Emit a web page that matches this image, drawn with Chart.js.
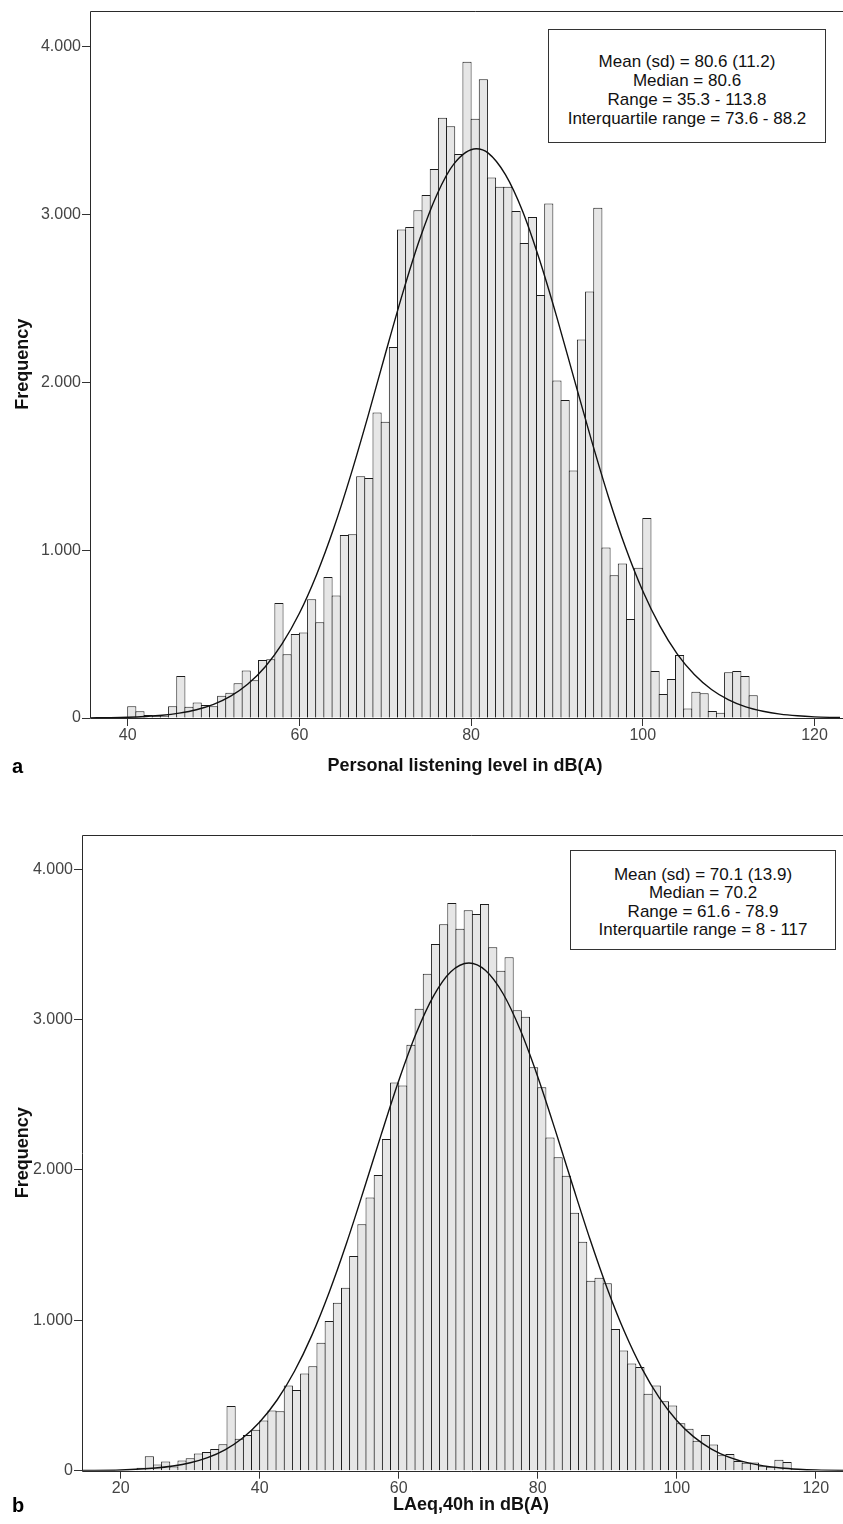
<!DOCTYPE html>
<html>
<head>
<meta charset="utf-8">
<script src="https://cdn.jsdelivr.net/npm/chart.js@4.4.1/dist/chart.umd.min.js"></script>
<style>
  html, body { margin: 0; padding: 0; background: #fff; overflow: hidden; }
  body { width: 843px; height: 1524px; position: relative; font-family: "Liberation Sans", Arial, sans-serif; }
  .wrap { position: absolute; left: 0; width: 860px; }
  #wrapA { top: 0; height: 790px; }
  #wrapB { top: 800px; height: 724px; }
  .stats { position: absolute; border: 1px solid #333; background: #fff; text-align: center;
           font-size: 17px; color: #111; box-sizing: border-box; }
  #statsA { left: 548px; top: 29px; width: 278px; height: 114px; padding-top: 22px; line-height: 19px; }
  #statsB { left: 570px; top: 850px; width: 266px; height: 100px; padding-top: 15px; line-height: 18.4px; }
  .panel { position: absolute; left: 12px; font-weight: bold; font-size: 20px; }
</style>
</head>
<body>
<div class="wrap" id="wrapA"><canvas id="chartA" width="860" height="790"></canvas></div>
<div class="wrap" id="wrapB"><canvas id="chartB" width="860" height="724"></canvas></div>

<div class="stats" id="statsA">Mean (sd) = 80.6 (11.2)<br>Median = 80.6<br>Range = 35.3 - 113.8<br>Interquartile range = 73.6 - 88.2</div>
<div class="stats" id="statsB">Mean (sd) = 70.1 (13.9)<br>Median = 70.2<br>Range = 61.6 - 78.9<br>Interquartile range = 8 - 117</div>
<div class="panel" style="top:755px">a</div>
<div class="panel" style="top:1494px">b</div>

<script>
// --- DATA: panel a (personal listening level) ---
const binStartA = 40;
const binWidthA = 20 / 21;
const freqA = [
  70, 40, 18, 12, 10, 70, 250, 67, 92, 77,
  70, 132, 150, 207, 283, 225, 345, 350, 685, 380,
  500, 510, 708, 570, 840, 730, 1090, 1095, 1440, 1430,
  1820, 1765, 2210, 2910, 2925, 3025, 3115, 3270, 3575, 3525,
  3360, 3910, 3570, 3805, 3220, 3165, 3165, 3020, 2830, 2985,
  2520, 3065, 2010, 1895, 1475, 2255, 2540, 3040, 1015, 850,
  920, 590, 895, 1192, 280, 143, 232, 375, 56, 157,
  147, 42, 32, 272, 280, 250, 135
];
const curveAx = [35.6, 38, 40, 42, 44, 46, 48, 50, 52, 54, 56, 58, 60, 62, 64, 66, 68, 70, 72, 74, 76, 78, 80.6,
                 82, 84, 86, 88, 90, 92, 94, 96, 98, 100, 102, 104, 106, 108, 110, 112, 114, 116, 118, 120, 122, 123];
const curveAy = [1, 2.4, 4.7, 9, 16, 29, 49, 81, 130, 202, 304, 443, 624, 854, 1130, 1450, 1800, 2167, 2525, 2850, 3116, 3301, 3391,
                 3365, 3237, 3019, 2725, 2385, 2020, 1658, 1317, 1014, 756, 547, 382, 259, 170, 108, 66, 40, 23, 13, 7, 3.7, 2.6];
const xTicksA = [40, 60, 80, 100, 120];

// --- DATA: panel b (LAeq,40h) ---
const binStartB = 20;
const binWidthB = 20 / 17;
const freqB = [
  4, 9, 19, 96, 42, 62, 28, 68, 82, 114,
  124, 144, 176, 430, 213, 237, 272, 333, 401, 395,
  566, 537, 647, 695, 851, 995, 1116, 1217, 1427, 1638,
  1817, 1967, 2206, 2581, 2561, 2832, 3071, 3305, 3503, 3633,
  3775, 3604, 3726, 3702, 3769, 3480, 3325, 3414, 3062, 3019,
  2682, 2549, 2215, 2085, 1961, 1716, 1522, 1263, 1283, 1246,
  943, 799, 712, 690, 512, 566, 461, 433, 315, 279,
  199, 237, 175, 102, 111, 64, 53, 55, 33, 27,
  73, 58, 9
];
const curveBx = [14.4, 20, 25, 27.5, 30, 32.5, 35, 37.5, 40, 42.5, 45, 47.5, 50, 52.5, 55, 57.5, 60, 62.5, 65, 67.5, 70.1,
                 72.5, 75, 77.5, 80, 82.5, 85, 87.5, 90, 92.5, 95, 97.5, 100, 102.5, 105, 107.5, 110, 112.5, 115, 117.5, 120, 126.4];
const curveBy = [1, 5, 17.5, 31, 53, 87, 139, 216, 324, 470, 661, 900, 1187, 1514, 1871, 2238, 2593, 2907, 3156, 3318, 3376,
                 3326, 3173, 2930, 2620, 2268, 1901, 1542, 1212, 922, 679, 484, 334, 223, 144, 90, 55, 32, 18, 10, 5.4, 1];
const xTicksB = [20, 40, 60, 80, 100, 120];

const yTickValues = [0, 1000, 2000, 3000, 4000];
const yTickLabels = ['0', '1.000', '2.000', '3.000', '4.000'];

// --- FRAME: left, top and bottom sides (right side runs off the page) ---
const framePlugin = {
  id: 'frame',
  afterDatasetsDraw(chart) {
    const { ctx, chartArea: a, width } = chart;
    const l = Math.round(a.left) + 0.5, t = Math.round(a.top) + 0.5, b = Math.round(a.bottom) + 0.5;
    ctx.save();
    ctx.strokeStyle = '#2a2a2a';
    ctx.lineWidth = 1;
    ctx.beginPath();
    ctx.moveTo(width, t); ctx.lineTo(l, t); ctx.lineTo(l, b); ctx.lineTo(width, b);
    ctx.stroke();
    ctx.restore();
  }
};

function makeHistogram(id, cfg) {
  const bars = cfg.freq.map((f, i) => ({ x: cfg.binStart + (i + 0.5) * cfg.binWidth, y: f }));
  const curve = cfg.curveX.map((x, i) => ({ x: x, y: cfg.curveY[i] }));
  return new Chart(document.getElementById(id), {
    type: 'bar',
    data: {
      datasets: [
        {
          type: 'line',
          data: curve,
          borderColor: '#111',
          borderWidth: 1.4,
          pointRadius: 0,
          cubicInterpolationMode: 'monotone',
          fill: false,
          order: 0
        },
        {
          type: 'bar',
          data: bars,
          backgroundColor: '#e6e6e6',
          borderColor: '#1c1c1c',
          borderWidth: 1,
          borderSkipped: 'start',
          barPercentage: 1.12,
          categoryPercentage: 1,
          inflateAmount: 0,
          order: 1
        }
      ]
    },
    options: {
      responsive: false,
      animation: false,
      devicePixelRatio: 1,
      layout: { padding: { top: cfg.padTop, left: 0, right: cfg.padRight, bottom: 0 } },
      plugins: { legend: { display: false }, tooltip: { enabled: false } },
      scales: {
        x: {
          type: 'linear',
          min: cfg.xMin,
          max: cfg.xMax,
          offset: false,
          afterFit(scale) { scale.height = cfg.xHeight; },
          afterBuildTicks(scale) { scale.ticks = cfg.xTicks.map(v => ({ value: v })); },
          grid: { display: true, drawOnChartArea: false, drawTicks: true, tickLength: 8, color: '#333', offset: false },
          border: { display: false },
          ticks: { color: '#444', font: { size: 16, family: '"Liberation Sans", Arial' }, padding: 0, maxRotation: 0,
                   callback: v => String(v) },
          title: { display: true, text: cfg.xTitle, color: '#111',
                   font: { size: 18, weight: 'bold', family: '"Liberation Sans", Arial' },
                   padding: { top: 0, bottom: cfg.xTitlePad } }
        },
        y: {
          min: 0,
          max: cfg.yMax,
          afterFit(scale) { scale.width = cfg.yWidth; },
          afterBuildTicks(scale) { scale.ticks = yTickValues.map(v => ({ value: v })); },
          grid: { display: true, drawOnChartArea: false, drawTicks: true, tickLength: 8, color: '#333' },
          border: { display: false },
          ticks: { color: '#444', font: { size: 16, family: '"Liberation Sans", Arial' }, padding: 1,
                   callback: v => yTickLabels[yTickValues.indexOf(v)] },
          title: { display: true, text: 'Frequency', color: '#111',
                   font: { size: 18, weight: 'bold', family: '"Liberation Sans", Arial' },
                   padding: { top: 12, bottom: 0 } }
        }
      }
    },
    plugins: [framePlugin]
  });
}

makeHistogram('chartA', {
  freq: freqA, binStart: binStartA, binWidth: binWidthA,
  curveX: curveAx, curveY: curveAy, xTicks: xTicksA,
  xMin: 35.61, xMax: 122.97, yMax: 4214,
  padTop: 10, padRight: 20, xHeight: 72, yWidth: 90, xTitlePad: 13,
  xTitle: 'Personal listening level in dB(A)'
});

makeHistogram('chartB', {
  freq: freqB, binStart: binStartB, binWidth: binWidthB,
  curveX: curveBx, curveY: curveBy, xTicks: xTicksB,
  xMin: 14.43, xMax: 126.37, yMax: 4227,
  padTop: 35, padRight: 0, xHeight: 53.3, yWidth: 82, xTitlePad: 8,
  xTitle: 'LAeq,40h in dB(A)'
});
</script>
</body>
</html>
